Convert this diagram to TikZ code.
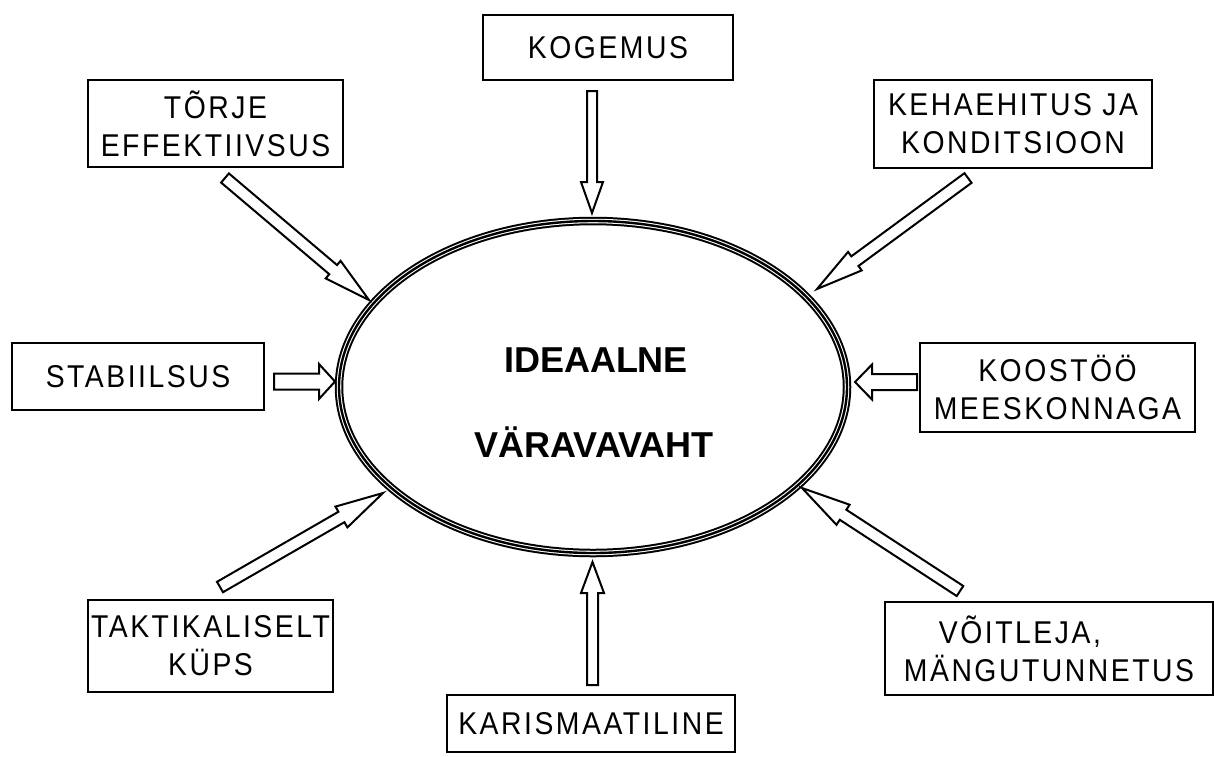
\documentclass[tikz,border=0pt]{standalone}
\usepackage{fontspec}
\usetikzlibrary{calc}
\newfontfamily\boxfont[LetterSpace=8,FakeStretch=0.9]{Liberation Sans}
\newfontfamily\titlefont{Liberation Sans}
\tikzset{
  lbox/.style={draw=black, line width=2pt, fill=white, inner sep=0pt, align=center,
    font=\boxfont\fontsize{31.5}{38}\selectfont},
  blockarr/.style={draw=black, line width=2pt, fill=white, line join=miter},
  title/.style={font=\titlefont\bfseries\fontsize{36}{40}\selectfont, inner sep=0pt, anchor=base}
}
\newcommand\hollowarrow[5]{%
  \coordinate (hn) at ($(#2)!#5!(#1)$);
  \draw[blockarr] ($(#1)!#3!90:(#2)$) -- ($(hn)!#3!90:(#2)$) -- ($(hn)!#4!90:(#2)$) -- (#2)
    -- ($(hn)!#4!-90:(#2)$) -- ($(hn)!#3!-90:(#2)$) -- ($(#1)!#3!-90:(#2)$) -- cycle;}
\begin{document}
\begin{tikzpicture}[x=1pt,y=-1pt]
\useasboundingbox (0,0) rectangle (1214,756);
\fill[white] (0,0) rectangle (1214,756);
% ellipse
\coordinate (c) at (593,387);
\draw[line width=8.5pt] (c) ellipse [x radius=254, y radius=166];
\draw[line width=4.5pt, white] (c) ellipse [x radius=254, y radius=166];
\draw[line width=2.4pt] (c) ellipse [x radius=254, y radius=166];
\node[title] (t1) at (596,372) {IDEAALNE};
\node[title] (t2) at (594,457) {VÄRAVAVAHT};
% boxes
\node[lbox, minimum width=250, minimum height=65] (kog) at (608,47.5) {KOGEMUS};
\node[lbox, minimum width=255, minimum height=87] (tor) at (215.5,123.5) {TÕRJE\\EFFEKTIIVSUS};
\node[lbox, minimum width=278, minimum height=88] (keh) at (1013,124) {KEHAEHITUS JA\\KONDITSIOON};
\node[lbox, minimum width=252, minimum height=67] (stb) at (138,376.5) {STABIILSUS};
\node[lbox, minimum width=275, minimum height=89] (koo) at (1057.5,387.5) {KOOSTÖÖ\\MEESKONNAGA};
\node[lbox, minimum width=245, minimum height=92] (tak) at (210.5,646) {TAKTIKALISELT\\KÜPS};
\node[lbox, minimum width=328, minimum height=93, align=left] (voi) at (1049,648.5) {\hspace*{35pt}VÕITLEJA,\\MÄNGUTUNNETUS};
\node[lbox, minimum width=288, minimum height=57] (kar) at (591,723.5) {KARISMAATILINE};
% arrows
\coordinate (kogT) at (592,91);   \coordinate (kogH) at (592,213);
\coordinate (torT) at (225,178);  \coordinate (torH) at (369,300);
\coordinate (kehT) at (968,178);  \coordinate (kehH) at (817,289);
\coordinate (stbT) at (274,381.5);\coordinate (stbH) at (335,381.5);
\coordinate (kooT) at (917,382);  \coordinate (kooH) at (855,382);
\coordinate (takT) at (220,587);  \coordinate (takH) at (383,493);
\coordinate (voiT) at (960,591);  \coordinate (voiH) at (802,488);
\coordinate (karT) at (592.5,685);\coordinate (karH) at (592.5,562);
\hollowarrow{kogT}{kogH}{5pt}{11pt}{31pt}
\hollowarrow{torT}{torH}{6pt}{11.5pt}{47pt}
\hollowarrow{kehT}{kehH}{6pt}{11.5pt}{47pt}
\hollowarrow{stbT}{stbH}{8pt}{17.5pt}{16pt}
\hollowarrow{kooT}{kooH}{8pt}{17.5pt}{17pt}
\hollowarrow{takT}{takH}{6pt}{12pt}{48pt}
\hollowarrow{voiT}{voiH}{6pt}{12pt}{49pt}
\hollowarrow{karT}{karH}{5.5pt}{11.5pt}{31pt}
\end{tikzpicture}
\end{document}
